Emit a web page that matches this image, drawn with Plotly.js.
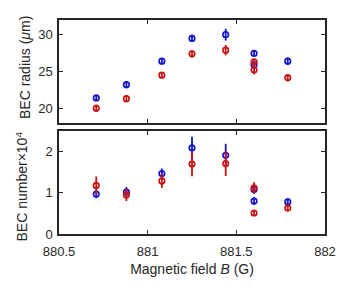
<!DOCTYPE html>
<html><head><meta charset="utf-8">
<script src="https://cdn.plot.ly/plotly-3.0.1.min.js"></script>
<style>body{margin:0;padding:0;background:#fff}#plot{width:339px;height:296px}</style>
</head><body><div id="plot"></div>
<script>
// Magnetic field values (G)
const fieldBlue = [880.71, 880.88, 881.08, 881.25, 881.44, 881.60, 881.60, 881.79];
const fieldRed  = [880.71, 880.88, 881.08, 881.25, 881.44, 881.60, 881.60, 881.79];
// BEC radius (um)
const radiusBlue    = [21.4, 23.2, 26.4, 29.5, 30.0, 27.45, 25.9, 26.4];
const radiusBlueErr = [0.4, 0.5, 0.3, 0.5, 0.8, 0.35, 0.4, 0.5];
const radiusRed     = [20.0, 21.3, 24.5, 27.4, 27.9, 26.3, 25.2, 24.15];
const radiusRedErr  = [0.5, 0.5, 0.3, 0.5, 0.7, 0.4, 0.6, 0.5];
// BEC number (x1e4)
const numberBlue    = [0.97, 1.02, 1.47, 2.09, 1.91, 1.08, 0.80, 0.78];
const numberBlueErr = [0.10, 0.12, 0.12, 0.27, 0.28, 0.10, 0.09, 0.09];
const numberRed     = [1.18, 0.95, 1.29, 1.70, 1.71, 1.12, 0.51, 0.63];
const numberRedErr  = [0.22, 0.15, 0.17, 0.30, 0.30, 0.14, 0.06, 0.08];
const xTicks = [880.5, 881, 881.5, 882];
const xTickText = ['880.5', '881', '881.5', '882'];
const yLabelTop = 'BEC radius (<i>μ</i>m)';
const yLabelBottom = 'BEC number×10<sup>4</sup>';

const blue = '#1414c8', red = '#c81414';
function tr(x, y, e, c, xa, ya) {
  return {x: x, y: y, type: 'scatter', mode: 'markers', xaxis: xa, yaxis: ya,
    marker: {symbol: 'circle-open', size: 5.5, color: c, line: {width: 1.7, color: c}},
    error_y: {type: 'data', array: e, visible: true, width: 0, thickness: 1.8, color: c},
    showlegend: false, cliponaxis: false};
}
const data = [
  tr(fieldBlue, radiusBlue, radiusBlueErr, blue, 'x', 'y'),
  tr(fieldRed, radiusRed, radiusRedErr, red, 'x', 'y'),
  tr(fieldBlue, numberBlue, numberBlueErr, blue, 'x2', 'y2'),
  tr(fieldRed, numberRed, numberRedErr, red, 'x2', 'y2')
];
const fnt = {family: 'Liberation Sans, Arial, sans-serif', size: 13, color: '#262626'};
const tfnt = {family: 'Liberation Sans, Arial, sans-serif', size: 14, color: '#262626'};
const axBase = {showline: true, linecolor: '#262626', linewidth: 1.6, mirror: 'ticks',
  ticks: 'inside', ticklen: 4, tickwidth: 1, tickcolor: '#262626', showgrid: false,
  zeroline: false, tickfont: fnt};
const layout = {
  width: 339, height: 296, margin: {l: 59, r: 14, t: 20, b: 62},
  paper_bgcolor: '#fff', plot_bgcolor: '#fff', font: fnt,
  xaxis: Object.assign({}, axBase, {range: [880.5, 882], tickvals: xTicks, showticklabels: false,
    anchor: 'y', domain: [0, 1]}),
  yaxis: Object.assign({}, axBase, {range: [18, 32], tickvals: [20, 25, 30],
    domain: [0.519, 1], anchor: 'x', ticklabelstandoff: 2}),
  xaxis2: Object.assign({}, axBase, {range: [880.5, 882], tickvals: xTicks,
    ticktext: xTickText, anchor: 'y2', domain: [0, 1], ticklabelstandoff: 5,
    title: {text: 'Magnetic field <i>B</i> (G)', font: tfnt, standoff: 6}}),
  yaxis2: Object.assign({}, axBase, {range: [0, 2.5], tickvals: [0, 1, 2],
    domain: [0, 0.481], anchor: 'x2', ticklabelstandoff: 2}),
  annotations: [
    {text: yLabelTop, xref: 'paper', yref: 'paper', x: -0.128, y: 0.78,
     xanchor: 'center', yanchor: 'middle', textangle: -90, showarrow: false, font: tfnt},
    {text: yLabelBottom, xref: 'paper', yref: 'paper', x: -0.139, y: 0.222,
     xanchor: 'center', yanchor: 'middle', textangle: -90, showarrow: false, font: tfnt}
  ]
};
Plotly.newPlot('plot', data, layout, {displayModeBar: false, staticPlot: true});
</script></body></html>
